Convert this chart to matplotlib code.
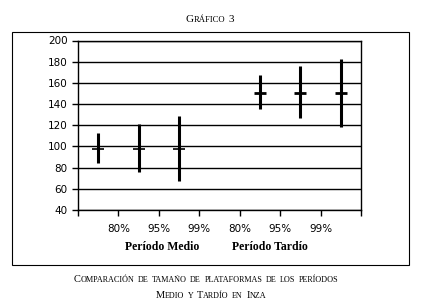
import matplotlib
matplotlib.use('Agg')
import matplotlib.pyplot as plt
from matplotlib.offsetbox import TextArea, HPacker, AnnotationBbox
from matplotlib.patches import Rectangle

# values
tick_labels = ['80%', '95%', '99%', '80%', '95%', '99%']
medio_x = [0, 1, 2]
medio_mean = [98, 98, 98]
medio_low = [84, 76, 67]
medio_high = [113, 121, 129]
tardio_x = [4, 5, 6]
tardio_mean = [150, 150, 150]
tardio_low = [135, 127, 118]
tardio_high = [167, 176, 183]

SERIF = 'Liberation Serif'


def small_caps(fig, text, xy, big=7.5, small=5.9):
    # fake small caps: capitals at full size, lower case as small capitals
    words = []
    for word in text.split(' '):
        parts = []
        run, run_big = '', None
        for ch in word:
            is_big = ch.isupper() or ch.isdigit()
            if run and is_big != run_big:
                parts.append((run, run_big))
                run = ''
            run += ch
            run_big = is_big
        if run:
            parts.append((run, run_big))
        boxes = [TextArea(s.upper(), textprops=dict(family=SERIF, size=big if b else small))
                 for s, b in parts]
        words.append(HPacker(children=boxes, align='baseline', pad=0, sep=0))
    line = HPacker(children=words, align='baseline', pad=0, sep=2.5)
    ab = AnnotationBbox(line, xy, xycoords='figure fraction', frameon=False,
                        box_alignment=(0.5, 0.5), pad=0)
    fig.add_artist(ab)


fig = plt.figure(figsize=(4.22, 3.08), dpi=100)
W, H = 422, 308

# outer frame around the chart
fig.add_artist(Rectangle((12 / W, 1 - 265 / H), 397 / W, 233.5 / H,
                         transform=fig.transFigure, fill=False,
                         edgecolor='black', linewidth=0.8))

ax = fig.add_axes([78 / W, 1 - 210 / H, 283 / W, 169.5 / H])

ax.vlines(medio_x, medio_low, medio_high, color='black', linewidth=2.2)
ax.plot(medio_x, medio_mean, linestyle='none', marker='_', markersize=9,
        markeredgewidth=1.2, color='black')
ax.vlines(tardio_x, tardio_low, tardio_high, color='black', linewidth=2.2)
ax.plot(tardio_x, tardio_mean, linestyle='none', marker='_', markersize=9,
        markeredgewidth=2.0, color='black')

ax.set_xlim(-0.5, 6.5)
ax.set_ylim(40, 200)
ax.set_yticks(range(40, 201, 20))
ax.yaxis.grid(True, color='black', linewidth=1.0)
ax.set_axisbelow(True)

# ticks at category boundaries, labels under the inner boundaries
ax.set_xticks([i + 0.5 for i in range(-1, 7)])
ax.set_xticklabels([''] + tick_labels + [''])
ax.tick_params(axis='both', direction='out', length=4, width=1.0,
               labelsize=7.5, color='black')
ax.tick_params(axis='x', pad=6)
for s in ax.spines.values():
    s.set_linewidth(1.0)

fig.text(162 / W, 1 - 247 / H, 'Período Medio', family=SERIF, weight='bold',
         size=8.5, ha='center', va='center')
fig.text(270 / W, 1 - 247 / H, 'Período Tardío', family=SERIF, weight='bold',
         size=8.5, ha='center', va='center')

small_caps(fig, 'Gráfico 3', (210 / W, 1 - 20 / H), big=8, small=6.2)
small_caps(fig, 'Comparación de tamaño de plataformas de los períodos', (206 / W, 1 - 280 / H))
small_caps(fig, 'Medio y Tardío en Inza', (211 / W, 1 - 296 / H))

fig.savefig('out.png', dpi=100)
